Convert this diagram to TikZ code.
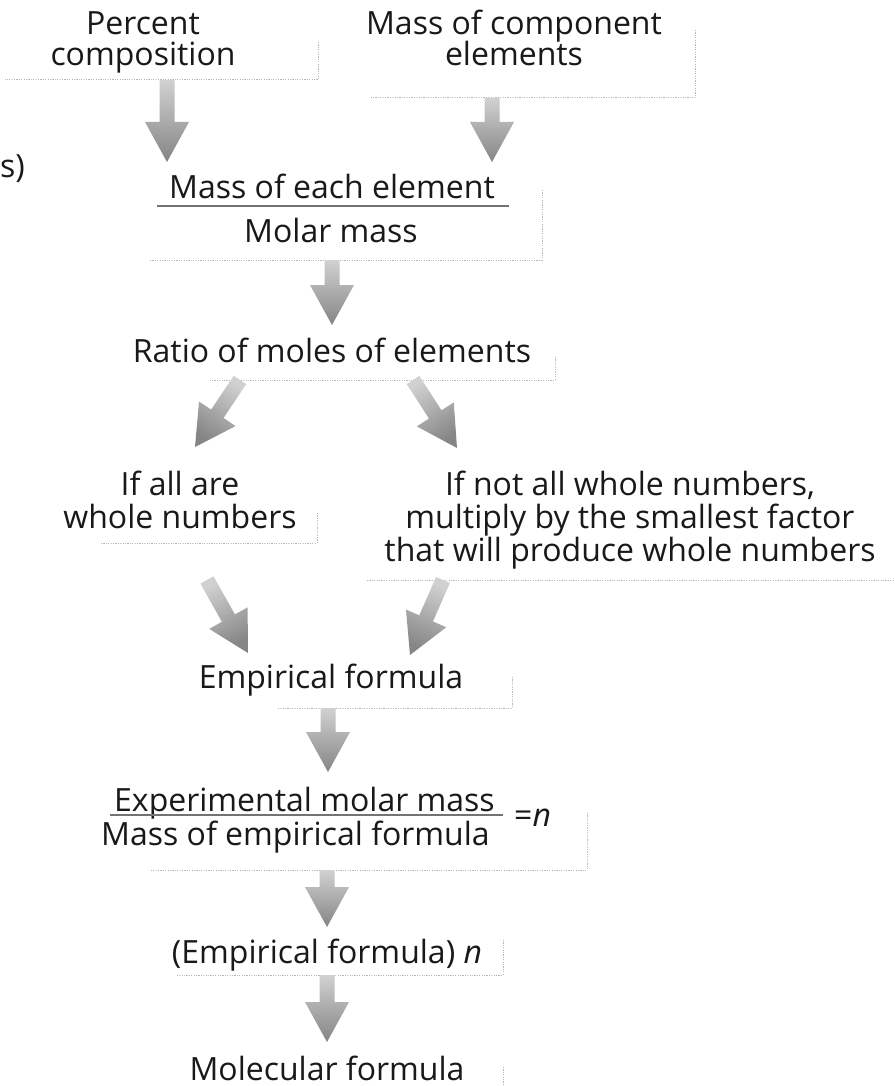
\documentclass[tikz,border=0pt]{standalone}
\usepackage{fontspec}
\setmainfont{Open Sans}
\usetikzlibrary{calc}
\tikzset{
  lbl/.style={font=\fontsize{32}{38}\selectfont, inner sep=0pt, anchor=base, text=black!90},
  shadowline/.style={draw=black!28, line width=1pt, dash pattern=on 1.2pt off 1.2pt},
  fracline/.style={draw=black!55, line width=1.3pt},
  fatarrowstyle/.style={top color=black!18, bottom color=black!48},
}
\newcommand\fatarrow[2]{%
  \path let \p1=($(#2)-(#1)$) in \pgfextra{\pgfmathparse{atan2(\y1,\x1)+90}\xdef\arrang{\pgfmathresult}};
  \coordinate (fatC) at ($(#2)!40pt!(#1)$);
  \shade[fatarrowstyle, shading angle=\arrang]
    ($(#1)!7.5pt!90:(#2)$) -- ($(fatC)!7.5pt!90:(#2)$) -- ($(fatC)!22pt!90:(#2)$) -- (#2)
    -- ($(fatC)!22pt!-90:(#2)$) -- ($(fatC)!7.5pt!-90:(#2)$) -- ($(#1)!7.5pt!-90:(#2)$) -- cycle;
}
\begin{document}
\begin{tikzpicture}[x=1pt,y=-1pt]
\useasboundingbox[fill=white] (0,0) rectangle (894,1086);

% faint box edges
\draw[shadowline] (318,42) -- (318,80) -- (5,80);
\draw[shadowline] (695,30) -- (695,98) -- (370,98);
\draw[shadowline] (542,190) -- (542,260) -- (150,260);
\draw[shadowline] (555,357) -- (555,380) -- (210,380);
\draw[shadowline] (317,513) -- (317,543) -- (100,543);
\draw[shadowline] (367,580) -- (894,580);
\draw[shadowline] (512,677) -- (512,708) -- (277,708);
\draw[shadowline] (587,813) -- (587,870) -- (150,870);
\draw[shadowline] (503,940) -- (503,975) -- (177,975);
\draw[shadowline] (503,1067) -- (503,1086);

% texts
\node[lbl] (perc1) at (143,35) {Percent};
\node[lbl] (perc2) at (143,66) {composition};
\node[lbl] (mcomp1) at (514,35) {Mass of component};
\node[lbl] (mcomp2) at (514,66) {elements};
\node[lbl, anchor=base west] (sfrag) at (0,178) {s)};
\node[lbl] (f1n) at (332,198) {Mass of each element};
\node[lbl] (f1d) at (331,242) {Molar mass};
\draw[fracline] ([xshift=-12pt,yshift=-8pt]f1n.base west) -- ([xshift=14pt,yshift=-8pt]f1n.base east);
\node[lbl] (ratio) at (332,362) {Ratio of moles of elements};
\node[lbl] (wh1) at (180,495) {If all are};
\node[lbl] (wh2) at (180,528) {whole numbers};
\node[lbl] (na1) at (630,495) {If not all whole numbers,};
\node[lbl] (na2) at (630,528) {multiply by the smallest factor};
\node[lbl] (na3) at (630,561) {that will produce whole numbers};
\node[lbl] (emp) at (331,688) {Empirical formula};
\node[lbl, anchor=base east] (f2n) at (495,811) {Experimental molar mass};
\node[lbl, anchor=base east] (f2d) at (490,845) {Mass of empirical formula};
\draw[fracline] ([xshift=-4pt,yshift=-4pt]f2n.base west) -- ([xshift=8pt,yshift=-4pt]f2n.base east);
\node[lbl, anchor=base west] (eqn) at (514,826) {=\textit{n}};
\node[lbl] (empn) at (327,963) {(Empirical formula) \textit{n}};
\node[lbl] (mol) at (327,1080) {Molecular formula};

% arrow end points
\coordinate (a1s) at (167,80);   \coordinate (a1e) at (167,162);
\coordinate (a2s) at (492,98);   \coordinate (a2e) at (492,162);
\coordinate (a3s) at (332,260);  \coordinate (a3e) at (332,325);
\coordinate (a4s) at (240,380);  \coordinate (a4e) at (195,447);
\coordinate (a5s) at (413,380);  \coordinate (a5e) at (457,448);
\coordinate (a6s) at (207,580);  \coordinate (a6e) at (248,653);
\coordinate (a7s) at (443,580);  \coordinate (a7e) at (410,655);
\coordinate (a8s) at (328,708);  \coordinate (a8e) at (328,772);
\coordinate (a9s) at (327,870);  \coordinate (a9e) at (327,927);
\coordinate (a10s) at (327,975); \coordinate (a10e) at (327,1042);

\fatarrow{a1s}{a1e}
\fatarrow{a2s}{a2e}
\fatarrow{a3s}{a3e}
\fatarrow{a4s}{a4e}
\fatarrow{a5s}{a5e}
\fatarrow{a6s}{a6e}
\fatarrow{a7s}{a7e}
\fatarrow{a8s}{a8e}
\fatarrow{a9s}{a9e}
\fatarrow{a10s}{a10e}
\end{tikzpicture}
\end{document}
